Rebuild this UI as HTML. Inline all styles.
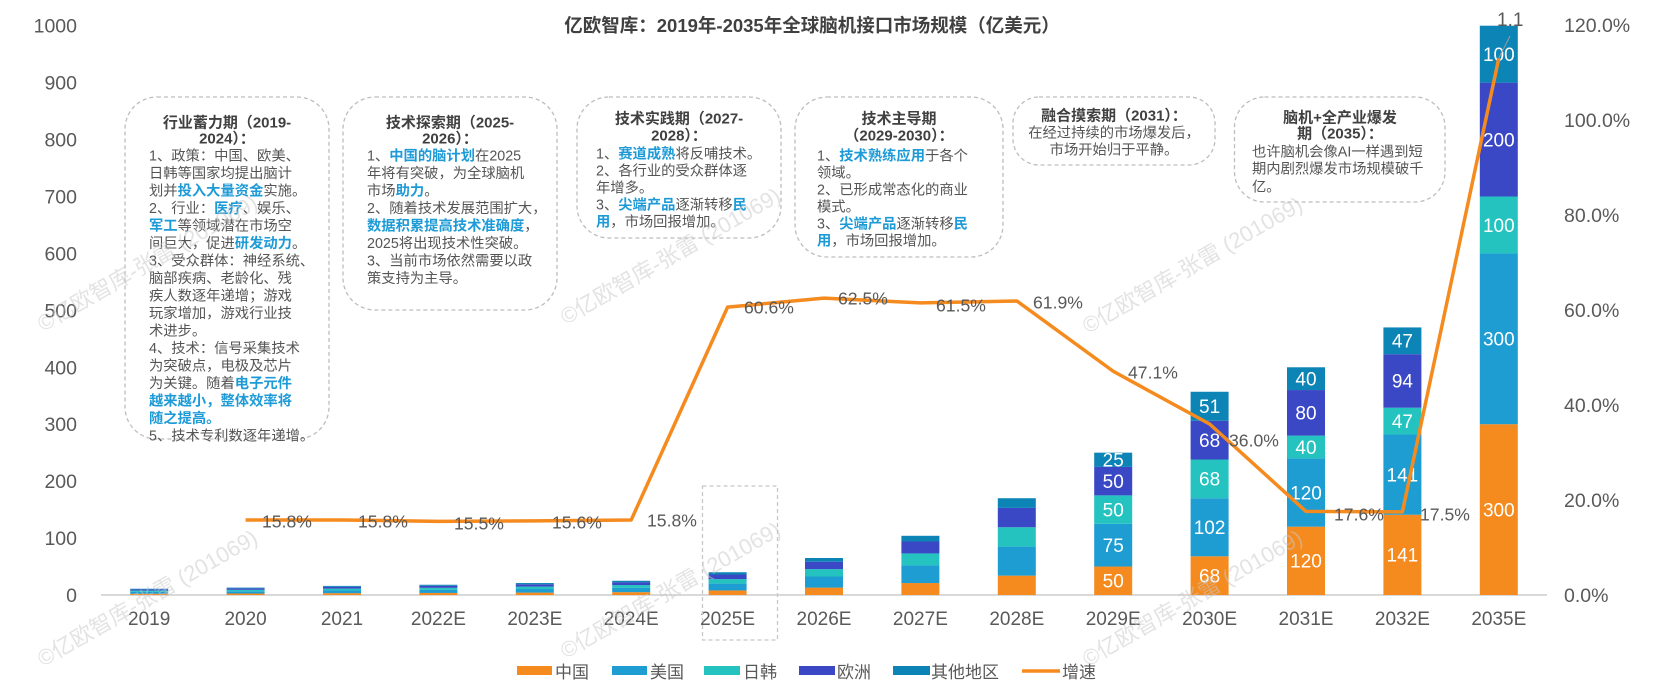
<!DOCTYPE html>
<html>
<head>
<meta charset="utf-8">
<style>
html,body{margin:0;padding:0;background:#fff;width:1657px;height:688px;overflow:hidden}
svg{display:block}
.n{font-family:"Liberation Sans","Noto Sans CJK SC",sans-serif}
.c{font-family:"Liberation Sans","Noto Sans CJK SC",sans-serif}
.ax{font-size:19.5px;fill:#595959}
.xl{font-size:19px;fill:#595959}
.pl{font-size:17.6px;fill:#595959}
.sl{font-size:19px;fill:#ffffff}
.bt{font-size:14.3px;fill:#555555}
.tt{font-size:15px;fill:#404040;font-weight:bold}
.hb{fill:#1E9BD7;font-weight:bold}
.wm{font-size:22px;fill:#c8c8c8;fill-opacity:0.5}
.box{fill:none;stroke:#bdbdbd;stroke-width:1.3;stroke-dasharray:4 3}
</style>
</head>
<body>
<svg width="1657" height="688" viewBox="0 0 1657 688" xmlns="http://www.w3.org/2000/svg">
<rect x="0" y="0" width="1657" height="688" fill="#ffffff"/>

<!-- title -->
<text class="c" x="812" y="32" text-anchor="middle" font-size="18.5" font-weight="bold" fill="#404040">亿欧智库：2019年-2035年全球脑机接口市场规模（亿美元）</text>

<!-- left axis -->
<g class="n ax" text-anchor="end">
<text x="77" y="602">0</text>
<text x="77" y="545.1">100</text>
<text x="77" y="488.1">200</text>
<text x="77" y="431.2">300</text>
<text x="77" y="374.3">400</text>
<text x="77" y="317.4">500</text>
<text x="77" y="260.4">600</text>
<text x="77" y="203.5">700</text>
<text x="77" y="146.6">800</text>
<text x="77" y="89.6">900</text>
<text x="77" y="32.7">1000</text>
</g>

<!-- right axis -->
<g class="n ax" text-anchor="start">
<text x="1564" y="602">0.0%</text>
<text x="1564" y="507">20.0%</text>
<text x="1564" y="412">40.0%</text>
<text x="1564" y="317">60.0%</text>
<text x="1564" y="222">80.0%</text>
<text x="1564" y="127">100.0%</text>
<text x="1564" y="32">120.0%</text>
</g>

<!-- baseline -->
<line x1="101" y1="595" x2="1547" y2="595" stroke="#d9d9d9" stroke-width="2"/>

<!-- bars -->
<g>
<!-- 2019 -->
<rect x="130.2" y="593.75" width="38" height="1.25" fill="#F58B1F"/>
<rect x="130.2" y="591.87" width="38" height="1.88" fill="#1E9DD2"/>
<rect x="130.2" y="590.62" width="38" height="1.25" fill="#24C3C0"/>
<rect x="130.2" y="589.36" width="38" height="1.26" fill="#3A48C5"/>
<rect x="130.2" y="588.74" width="38" height="0.62" fill="#0C84B6"/>
<!-- 2020 -->
<rect x="226.6" y="593.52" width="38" height="1.48" fill="#F58B1F"/>
<rect x="226.6" y="591.30" width="38" height="2.22" fill="#1E9DD2"/>
<rect x="226.6" y="589.82" width="38" height="1.48" fill="#24C3C0"/>
<rect x="226.6" y="588.34" width="38" height="1.48" fill="#3A48C5"/>
<rect x="226.6" y="587.60" width="38" height="0.74" fill="#0C84B6"/>
<!-- 2021 -->
<rect x="323.0" y="593.18" width="38" height="1.82" fill="#F58B1F"/>
<rect x="323.0" y="590.45" width="38" height="2.73" fill="#1E9DD2"/>
<rect x="323.0" y="588.62" width="38" height="1.83" fill="#24C3C0"/>
<rect x="323.0" y="586.80" width="38" height="1.82" fill="#3A48C5"/>
<rect x="323.0" y="585.89" width="38" height="0.91" fill="#0C84B6"/>
<!-- 2022E -->
<rect x="419.4" y="592.95" width="38" height="2.05" fill="#F58B1F"/>
<rect x="419.4" y="589.88" width="38" height="3.07" fill="#1E9DD2"/>
<rect x="419.4" y="587.83" width="38" height="2.05" fill="#24C3C0"/>
<rect x="419.4" y="585.78" width="38" height="2.05" fill="#3A48C5"/>
<rect x="419.4" y="584.75" width="38" height="1.03" fill="#0C84B6"/>
<!-- 2023E -->
<rect x="515.8" y="592.61" width="38" height="2.39" fill="#F58B1F"/>
<rect x="515.8" y="589.02" width="38" height="3.59" fill="#1E9DD2"/>
<rect x="515.8" y="586.63" width="38" height="2.39" fill="#24C3C0"/>
<rect x="515.8" y="584.24" width="38" height="2.39" fill="#3A48C5"/>
<rect x="515.8" y="583.04" width="38" height="1.20" fill="#0C84B6"/>
<!-- 2024E -->
<rect x="612.2" y="592.15" width="38" height="2.85" fill="#F58B1F"/>
<rect x="612.2" y="587.88" width="38" height="4.27" fill="#1E9DD2"/>
<rect x="612.2" y="585.04" width="38" height="2.84" fill="#24C3C0"/>
<rect x="612.2" y="582.19" width="38" height="2.85" fill="#3A48C5"/>
<rect x="612.2" y="580.77" width="38" height="1.42" fill="#0C84B6"/>
<!-- 2025E -->
<rect x="708.6" y="590.45" width="38" height="4.55" fill="#F58B1F"/>
<rect x="708.6" y="583.61" width="38" height="6.84" fill="#1E9DD2"/>
<rect x="708.6" y="579.06" width="38" height="4.55" fill="#24C3C0"/>
<rect x="708.6" y="574.51" width="38" height="4.55" fill="#3A48C5"/>
<rect x="708.6" y="572.23" width="38" height="2.28" fill="#0C84B6"/>
<!-- 2026E -->
<rect x="805.0" y="587.60" width="38" height="7.40" fill="#F58B1F"/>
<rect x="805.0" y="576.50" width="38" height="11.10" fill="#1E9DD2"/>
<rect x="805.0" y="569.10" width="38" height="7.40" fill="#24C3C0"/>
<rect x="805.0" y="561.70" width="38" height="7.40" fill="#3A48C5"/>
<rect x="805.0" y="558.00" width="38" height="3.70" fill="#0C84B6"/>
<!-- 2027E -->
<rect x="901.4" y="583.04" width="38" height="11.96" fill="#F58B1F"/>
<rect x="901.4" y="565.40" width="38" height="17.64" fill="#1E9DD2"/>
<rect x="901.4" y="553.44" width="38" height="11.96" fill="#24C3C0"/>
<rect x="901.4" y="541.49" width="38" height="11.95" fill="#3A48C5"/>
<rect x="901.4" y="535.79" width="38" height="5.70" fill="#0C84B6"/>
<!-- 2028E -->
<rect x="997.8" y="575.64" width="38" height="19.36" fill="#F58B1F"/>
<rect x="997.8" y="546.61" width="38" height="29.03" fill="#1E9DD2"/>
<rect x="997.8" y="527.25" width="38" height="19.36" fill="#24C3C0"/>
<rect x="997.8" y="507.90" width="38" height="19.35" fill="#3A48C5"/>
<rect x="997.8" y="498.22" width="38" height="9.68" fill="#0C84B6"/>
<!-- 2029E -->
<rect x="1094.2" y="566.53" width="38" height="28.47" fill="#F58B1F"/>
<rect x="1094.2" y="523.84" width="38" height="42.69" fill="#1E9DD2"/>
<rect x="1094.2" y="495.37" width="38" height="28.47" fill="#24C3C0"/>
<rect x="1094.2" y="466.91" width="38" height="28.46" fill="#3A48C5"/>
<rect x="1094.2" y="452.67" width="38" height="14.24" fill="#0C84B6"/>
<!-- 2030E -->
<rect x="1190.6" y="556.29" width="38" height="38.71" fill="#F58B1F"/>
<rect x="1190.6" y="498.22" width="38" height="58.07" fill="#1E9DD2"/>
<rect x="1190.6" y="459.51" width="38" height="38.71" fill="#24C3C0"/>
<rect x="1190.6" y="420.79" width="38" height="38.72" fill="#3A48C5"/>
<rect x="1190.6" y="391.76" width="38" height="29.03" fill="#0C84B6"/>
<!-- 2031E -->
<rect x="1287.0" y="526.68" width="38" height="68.32" fill="#F58B1F"/>
<rect x="1287.0" y="458.37" width="38" height="68.31" fill="#1E9DD2"/>
<rect x="1287.0" y="435.60" width="38" height="22.77" fill="#24C3C0"/>
<rect x="1287.0" y="390.05" width="38" height="45.55" fill="#3A48C5"/>
<rect x="1287.0" y="367.28" width="38" height="22.77" fill="#0C84B6"/>
<!-- 2032E -->
<rect x="1383.4" y="514.73" width="38" height="80.27" fill="#F58B1F"/>
<rect x="1383.4" y="434.46" width="38" height="80.27" fill="#1E9DD2"/>
<rect x="1383.4" y="407.70" width="38" height="26.76" fill="#24C3C0"/>
<rect x="1383.4" y="354.19" width="38" height="53.51" fill="#3A48C5"/>
<rect x="1383.4" y="327.43" width="38" height="26.76" fill="#0C84B6"/>
<!-- 2035E -->
<rect x="1479.8" y="424.21" width="38" height="170.79" fill="#F58B1F"/>
<rect x="1479.8" y="253.42" width="38" height="170.79" fill="#1E9DD2"/>
<rect x="1479.8" y="196.49" width="38" height="56.93" fill="#24C3C0"/>
<rect x="1479.8" y="82.63" width="38" height="113.86" fill="#3A48C5"/>
<rect x="1479.8" y="25.70" width="38" height="56.93" fill="#0C84B6"/>
</g>

<!-- segment labels -->
<g class="n sl" text-anchor="middle">
<text x="1113.2" y="587.6">50</text>
<text x="1113.2" y="552.0">75</text>
<text x="1113.2" y="516.4">50</text>
<text x="1113.2" y="487.9">50</text>
<text x="1113.2" y="466.6">25</text>

<text x="1209.6" y="582.4">68</text>
<text x="1209.6" y="534.1">102</text>
<text x="1209.6" y="485.7">68</text>
<text x="1209.6" y="447.0">68</text>
<text x="1209.6" y="413.1">51</text>

<text x="1306.0" y="567.6">120</text>
<text x="1306.0" y="499.3">120</text>
<text x="1306.0" y="453.8">40</text>
<text x="1306.0" y="419.6">80</text>
<text x="1306.0" y="385.5">40</text>

<text x="1402.4" y="561.7">141</text>
<text x="1402.4" y="481.4">141</text>
<text x="1402.4" y="427.9">47</text>
<text x="1402.4" y="387.7">94</text>
<text x="1402.4" y="347.6">47</text>

<text x="1498.8" y="516.4">300</text>
<text x="1498.8" y="345.6">300</text>
<text x="1498.8" y="231.8">100</text>
<text x="1498.8" y="146.4">200</text>
<text x="1498.8" y="61.0">100</text>
</g>

<!-- growth line -->
<polyline fill="none" stroke="#F58B1F" stroke-width="3.5" stroke-linejoin="round"
points="245.6,519.95 342.0,519.95 438.4,521.37 534.8,520.9 631.2,519.95 727.6,307.15 824.0,298.12 920.4,302.87 1016.8,300.97 1113.2,371.27 1209.6,424 1306.0,511.4 1402.4,511.87 1498.8,58.25"/>
<line x1="1498.8" y1="58" x2="1510" y2="36" stroke="#9a9a9a" stroke-width="1"/>

<!-- percent labels -->
<g class="n pl">
<text x="262" y="527.3">15.8%</text>
<text x="358" y="527.3">15.8%</text>
<text x="454" y="529.3">15.5%</text>
<text x="552" y="528.3">15.6%</text>
<text x="647" y="526.3">15.8%</text>
<text x="744" y="313.3">60.6%</text>
<text x="838" y="304.3">62.5%</text>
<text x="936" y="311.3">61.5%</text>
<text x="1033" y="308.3">61.9%</text>
<text x="1128" y="378.3">47.1%</text>
<text x="1229" y="446.3">36.0%</text>
<text x="1334" y="520.3">17.6%</text>
<text x="1420" y="520.3">17.5%</text>
<text x="1497" y="26" font-size="19">1.1</text>
</g>

<!-- x labels -->
<g class="n xl" text-anchor="middle">
<text x="149.2" y="625">2019</text>
<text x="245.6" y="625">2020</text>
<text x="342.0" y="625">2021</text>
<text x="438.4" y="625">2022E</text>
<text x="534.8" y="625">2023E</text>
<text x="631.2" y="625">2024E</text>
<text x="727.6" y="625">2025E</text>
<text x="824.0" y="625">2026E</text>
<text x="920.4" y="625">2027E</text>
<text x="1016.8" y="625">2028E</text>
<text x="1113.2" y="625">2029E</text>
<text x="1209.6" y="625">2030E</text>
<text x="1306.0" y="625">2031E</text>
<text x="1402.4" y="625">2032E</text>
<text x="1498.8" y="625">2035E</text>
</g>

<!-- 2025E highlight box -->
<rect x="702.5" y="486" width="75" height="154" fill="none" stroke="#c8c8c8" stroke-width="1.3" stroke-dasharray="4 3"/>

<!-- legend -->
<g class="c" font-size="17" fill="#595959">
<rect x="517" y="666" width="35" height="9" fill="#F58B1F"/>
<text x="555" y="678">中国</text>
<rect x="612" y="666" width="35" height="9" fill="#1E9DD2"/>
<text x="650" y="678">美国</text>
<rect x="704" y="666" width="36" height="9" fill="#24C3C0"/>
<text x="743" y="678">日韩</text>
<rect x="799" y="666" width="36" height="9" fill="#3A48C5"/>
<text x="837" y="678">欧洲</text>
<rect x="893" y="666" width="37" height="9" fill="#0C84B6"/>
<text x="931" y="678">其他地区</text>
<line x1="1022" y1="671" x2="1060" y2="671" stroke="#F58B1F" stroke-width="3.5"/>
<text x="1062" y="678">增速</text>
</g>

<!-- annotation boxes -->
<rect class="box" x="125" y="97" width="204" height="342" rx="32" ry="32"/>
<g class="c tt" text-anchor="middle">
<text x="227" y="127.7">行业蓄力期（2019-</text>
<text x="227" y="143.7">2024）：</text>
</g>
<g class="c bt">
<text x="149" y="160.5">1、政策：中国、欧美、</text>
<text x="149" y="178">日韩等国家均提出脑计</text>
<text x="149" y="195.5">划并<tspan class="hb">投入大量资金</tspan>实施。</text>
<text x="149" y="213">2、行业：<tspan class="hb">医疗</tspan>、娱乐、</text>
<text x="149" y="230.5"><tspan class="hb">军工</tspan>等领域潜在市场空</text>
<text x="149" y="248">间巨大，促进<tspan class="hb">研发动力</tspan>。</text>
<text x="149" y="265.5">3、受众群体：神经系统、</text>
<text x="149" y="283">脑部疾病、老龄化、残</text>
<text x="149" y="300.5">疾人数逐年递增；游戏</text>
<text x="149" y="318">玩家增加，游戏行业技</text>
<text x="149" y="335.5">术进步。</text>
<text x="149" y="353">4、技术：信号采集技术</text>
<text x="149" y="370.5">为突破点，电极及芯片</text>
<text x="149" y="388">为关键。随着<tspan class="hb">电子元件</tspan></text>
<text x="149" y="405.5"><tspan class="hb">越来越小，整体效率将</tspan></text>
<text x="149" y="423"><tspan class="hb">随之提高。</tspan></text>
<text x="149" y="440.5">5、技术专利数逐年递增。</text>
</g>

<rect class="box" x="343" y="97" width="214" height="213" rx="32" ry="32"/>
<g class="c tt" text-anchor="middle">
<text x="450" y="127.7">技术探索期（2025-</text>
<text x="450" y="143.7">2026）：</text>
</g>
<g class="c bt">
<text x="367" y="160.5">1、<tspan class="hb">中国的脑计划</tspan>在2025</text>
<text x="367" y="178">年将有突破，为全球脑机</text>
<text x="367" y="195.5">市场<tspan class="hb">助力</tspan>。</text>
<text x="367" y="213">2、随着技术发展范围扩大，</text>
<text x="367" y="230.5"><tspan class="hb">数据积累提高技术准确度</tspan>，</text>
<text x="367" y="248">2025将出现技术性突破。</text>
<text x="367" y="265.5">3、当前市场依然需要以政</text>
<text x="367" y="283">策支持为主导。</text>
</g>

<rect class="box" x="577" y="97" width="204" height="141" rx="32" ry="32"/>
<g class="c tt" text-anchor="middle">
<text x="679" y="123.7">技术实践期（2027-</text>
<text x="679" y="140.7">2028）：</text>
</g>
<g class="c bt">
<text x="596" y="158.5">1、<tspan class="hb">赛道成熟</tspan>将反哺技术。</text>
<text x="596" y="175.5">2、各行业的受众群体逐</text>
<text x="596" y="192.5">年增多。</text>
<text x="596" y="209.5">3、<tspan class="hb">尖端产品</tspan>逐渐转移<tspan class="hb">民</tspan></text>
<text x="596" y="226.5"><tspan class="hb">用</tspan>，市场回报增加。</text>
</g>

<rect class="box" x="795" y="97" width="208" height="160" rx="32" ry="32"/>
<g class="c tt" text-anchor="middle">
<text x="899" y="123.7">技术主导期</text>
<text x="899" y="140.7">（2029-2030）：</text>
</g>
<g class="c bt">
<text x="817" y="160.5">1、<tspan class="hb">技术熟练应用</tspan>于各个</text>
<text x="817" y="177.5">领域。</text>
<text x="817" y="194.5">2、已形成常态化的商业</text>
<text x="817" y="211.5">模式。</text>
<text x="817" y="228.5">3、<tspan class="hb">尖端产品</tspan>逐渐转移<tspan class="hb">民</tspan></text>
<text x="817" y="245.5"><tspan class="hb">用</tspan>，市场回报增加。</text>
</g>

<rect class="box" x="1013" y="97" width="202" height="68" rx="26" ry="26"/>
<g class="c" text-anchor="middle">
<text class="tt" x="1114" y="120.7">融合摸索期（2031）：</text>
<text class="bt" x="1114" y="137.5">在经过持续的市场爆发后，</text>
<text class="bt" x="1114" y="154.5">市场开始归于平静。</text>
</g>

<rect class="box" x="1234.5" y="97" width="210.5" height="105" rx="30" ry="30"/>
<g class="c tt" text-anchor="middle">
<text x="1340" y="122.7">脑机+全产业爆发</text>
<text x="1340" y="138.7">期（2035）：</text>
</g>
<g class="c bt">
<text x="1252" y="156.5">也许脑机会像AI一样遇到短</text>
<text x="1252" y="173.5">期内剧烈爆发市场规模破千</text>
<text x="1252" y="191.5">亿。</text>
</g>

<!-- watermarks -->
<g class="c wm">
<text transform="translate(43,332) rotate(-30)">©亿欧智库-张雷 (201069)</text>
<text transform="translate(566,325) rotate(-30)">©亿欧智库-张雷 (201069)</text>
<text transform="translate(1088,334) rotate(-30)">©亿欧智库-张雷 (201069)</text>
<text transform="translate(43,667) rotate(-30)">©亿欧智库-张雷 (201069)</text>
<text transform="translate(566,659) rotate(-30)">©亿欧智库-张雷 (201069)</text>
<text transform="translate(1088,667) rotate(-30)">©亿欧智库-张雷 (201069)</text>
</g>
</svg>
</body>
</html>
